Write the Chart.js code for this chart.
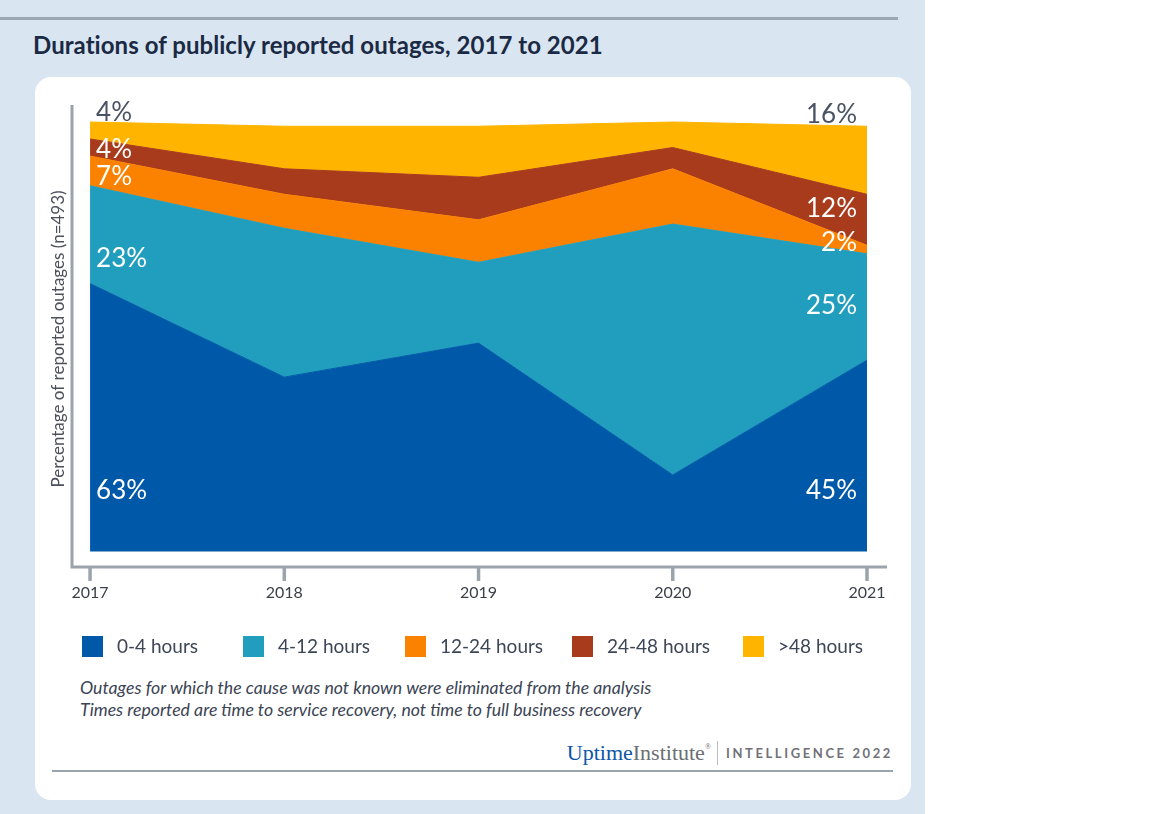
<!DOCTYPE html>
<html><head><meta charset="utf-8">
<script src="https://cdn.jsdelivr.net/npm/chart.js@4.4.1/dist/chart.umd.min.js"></script>
<style>
html,body{margin:0;padding:0;width:1152px;height:814px;overflow:hidden;background:#fff;font-family:Lato,sans-serif}
#bg{position:absolute;left:0;top:0;width:925px;height:814px;background:#d9e5f0}
#topline{position:absolute;left:0;top:17px;width:898px;height:3px;background:#9ba7b3}
#title{position:absolute;left:33px;top:30px;font:700 24px Lato;color:#1b2a44;white-space:nowrap;line-height:30px;letter-spacing:0.05px}
#card{position:absolute;left:35px;top:77px;width:876px;height:723px;background:#fff;border-radius:16px}
#notes{position:absolute;left:80px;top:677px;font:italic 17.7px Lato;color:#3b4454;line-height:22px;white-space:nowrap}
#logo{position:absolute;right:259px;top:739px;white-space:nowrap;display:flex;align-items:center;height:28px}
#logo .u{font:22px "Liberation Serif",serif;color:#0d56a6}
#logo .i{font:22px "Liberation Serif",serif;color:#6b6e73}
#logo sup{font:8px "Liberation Serif",serif;color:#6b6e73;position:relative;top:-7px}
#logo .sep{display:inline-block;width:1px;height:24px;background:#b9bcc2;margin:0 8px 0 6px}
#logo .int{font:700 13px Lato;color:#707278;letter-spacing:2.6px}
#botline{position:absolute;left:52px;top:770px;width:841px;height:2px;background:#9ba3ad}
#wrap{position:absolute;left:0;top:0;width:1152px;height:814px}
</style></head>
<body>
<div id="bg"></div>
<div id="topline"></div>
<div id="title">Durations of publicly reported outages, 2017 to 2021</div>
<div id="card"></div>
<div id="notes">Outages for which the cause was not known were eliminated from the analysis<br>Times reported are time to service recovery, not time to full business recovery</div>
<div id="logo"><span class="u">Uptime</span><span class="i">Institute</span><sup>®</sup><span class="sep"></span><span class="int">INTELLIGENCE 2022</span></div>
<div id="botline"></div>
<div id="wrap"><canvas id="c" width="1152" height="814"></canvas></div>
<script>
// ---- data ----
const years = ['2017', '2018', '2019', '2020', '2021'];
const seriesNames = ['0-4 hours', '4-12 hours', '12-24 hours', '24-48 hours', '>48 hours'];
const h0_4   = [63, 41, 49, 18, 45];
const h4_12  = [23, 35, 19, 59, 25];
const h12_24 = [7, 8, 10, 13, 2];
const h24_48 = [4, 6, 10, 5, 12];
const h48p   = [4, 10, 12, 6, 16];
const yAxisTitle = 'Percentage of reported outages (n=493)';

const seriesValues = [h0_4, h4_12, h12_24, h24_48, h48p];
const colors = ['#0059a8', '#219ebd', '#fa8200', '#a93b1d', '#ffb400'];

const datasets = seriesValues.map((vals, i) => ({
  label: seriesNames[i],
  data: vals.map((v, j) => ({x: Number(years[j]), y: v})),
  backgroundColor: colors[i],
  borderColor: colors[i],
  borderWidth: 1,
  pointRadius: 0,
  tension: 0,
  fill: i === 0 ? 'origin' : '-1'
}));

const AXIS = '#9ba3ad';

const decor = {
  id: 'decor',
  afterDraw(chart) {
    const ctx = chart.ctx, a = chart.chartArea;
    const xs = chart.scales.x;
    ctx.save();
    // axis lines
    ctx.strokeStyle = AXIS; ctx.lineWidth = 3; ctx.lineCap = 'butt';
    ctx.beginPath();
    ctx.moveTo(a.left, a.top); ctx.lineTo(a.left, a.bottom);
    ctx.lineTo(a.right, a.bottom);
    ctx.stroke();
    // ticks + labels
    ctx.fillStyle = '#3b3f48';
    ctx.font = '16px Lato';
    ctx.textAlign = 'center'; ctx.textBaseline = 'middle';
    years.forEach(y => {
      const px = xs.getPixelForValue(Number(y));
      ctx.beginPath(); ctx.lineWidth = 3.5;
      ctx.moveTo(px, a.bottom); ctx.lineTo(px, a.bottom + 14); ctx.stroke();
      ctx.fillText(y, px, a.bottom + 26);
    });
    // y title
    ctx.save();
    ctx.translate(a.left - 13, (a.top + a.bottom) / 2 + 3);
    ctx.rotate(-Math.PI / 2);
    ctx.fillStyle = '#4b505a';
    ctx.font = '17px Lato';
    ctx.fillText(yAxisTitle, 0, 0);
    ctx.restore();
    // legend
    const lx = [82, 243, 405, 572, 743];
    ctx.font = '19px Lato';
    ctx.textAlign = 'left';
    seriesNames.forEach((n, i) => {
      ctx.fillStyle = colors[i];
      ctx.fillRect(lx[i], 636, 21, 21);
      ctx.fillStyle = '#3d4656';
      ctx.fillText(n, lx[i] + 35, 647);
    });
    ctx.restore();
  }
};

// value labels at first and last year
const labelStyle = {
  first: [ {a: 'base', dy: -61}, {a: 'top', dy: 73}, {a: 'top', dy: 21}, {a: 'top', dy: 11}, {a: 'top', dy: -9, dark: true} ],
  last:  [ {a: 'base', dy: -61}, {a: 'top', dy: 52}, {a: 'top', dy: -3}, {a: 'top', dy: 14}, {a: 'top', dy: -12, dark: true} ]
};
const valueLabels = {
  id: 'valueLabels',
  afterDatasetsDraw(chart) {
    const ctx = chart.ctx, xs = chart.scales.x, ys = chart.scales.y;
    ctx.save();
    ctx.font = '400 26px Lato';
    ctx.textBaseline = 'middle';
    [[0, 'first', 'left', 6], [years.length - 1, 'last', 'right', -10]].forEach(([j, key, align, dx]) => {
      const px = xs.getPixelForValue(Number(years[j])) + dx;
      let cum = 0;
      seriesValues.forEach((vals, i) => {
        cum += vals[j];
        const st = labelStyle[key][i];
        const base = st.a === 'base' ? ys.getPixelForValue(0) : ys.getPixelForValue(cum);
        ctx.fillStyle = st.dark ? '#4a5364' : '#ffffff';
        ctx.textAlign = align;
        ctx.fillText(vals[j] + '%', px, base + st.dy);
      });
    });
    ctx.restore();
  }
};

new Chart(document.getElementById('c'), {
  type: 'line',
  data: {datasets},
  options: {
    responsive: false,
    animation: false,
    layout: {padding: {left: 72, right: 265, top: 105, bottom: 247}},
    plugins: {legend: {display: false}, tooltip: {enabled: false}},
    elements: {line: {borderJoinStyle: 'miter'}},
    scales: {
      x: {type: 'linear', display: false, min: 2016.907, max: 2021.103},
      y: {display: false, stacked: true, min: -3.65, max: 105.0}
    }
  },
  plugins: [decor, valueLabels]
});
</script>
</body></html>
